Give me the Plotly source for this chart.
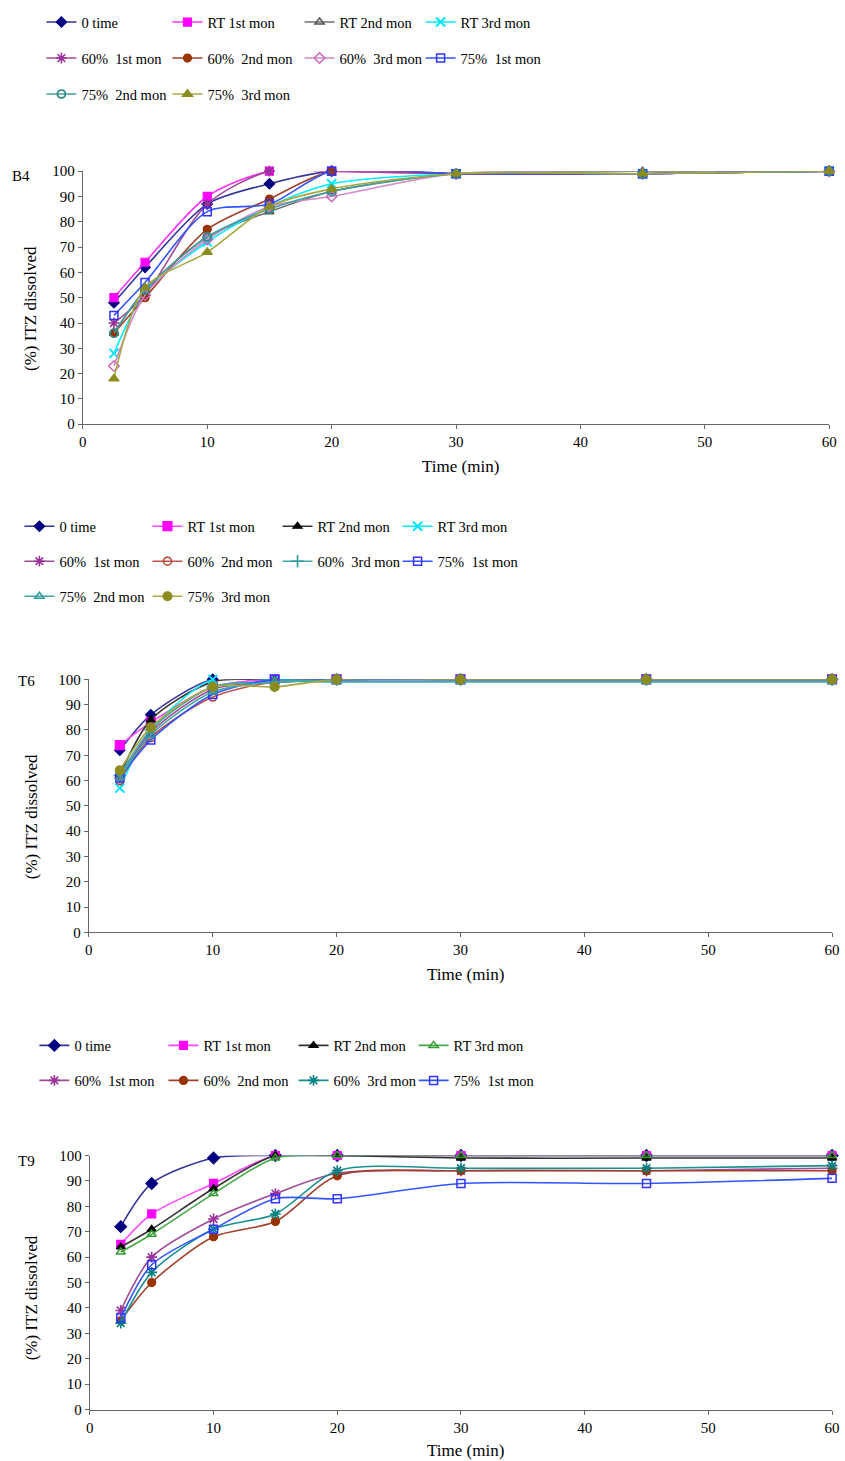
import plotly.graph_objects as go

W, H = 845, 1461
FONT = "Liberation Serif"

# calibration of screen positions (measured against the rendered page)
KX, BX = 0.9853, 4.2
KY, BY = 0.9887, 7.9

times = [2.5, 5, 10, 15, 20, 30, 45, 60]

# ---- Panel B4 ----
b4_names = ["0 time", "RT 1st mon", "RT 2nd mon", "RT 3rd mon",
            "60%\u00a0 1st mon", "60%\u00a0 2nd mon", "60%\u00a0 3rd mon",
            "75%\u00a0 1st mon", "75%\u00a0 2nd mon", "75%\u00a0 3rd mon"]
b4_0time = [48, 62, 87, 95, 100, 99, 99, 100]
b4_rt1 = [50, 64, 90, 100, 100, 99, 99, 100]
b4_rt2 = [36, 53, 74, 84, 92, 99, 100, 100]
b4_rt3 = [28, 52, 72, 86, 95, 99, 99, 100]
b4_60_1 = [40, 51, 87, 100, 100, 99, 99, 100]
b4_60_2 = [36, 50, 77, 89, 100, 99, 99, 100]
b4_60_3 = [23, 51, 73, 86, 90, 99, 99, 100]
b4_75_1 = [43, 56, 84, 87, 100, 99, 99, 100]
b4_75_2 = [36, 53, 74, 85, 92, 99, 99, 100]
b4_75_3 = [18, 54, 68, 86, 93, 99, 99, 100]

# ---- Panel T6 ----
t6_names = b4_names
t6_0time = [72, 86, 100, 99, 100, 100, 100, 100]
t6_rt1 = [74, 83, 97, 100, 100, 100, 100, 100]
t6_rt2 = [62, 84, 99, 100, 100, 100, 100, 100]
t6_rt3 = [57, 80, 100, 100, 100, 100, 100, 100]
t6_60_1 = [61, 79, 96, 99, 100, 100, 100, 100]
t6_60_2 = [60, 77, 93, 99, 100, 100, 100, 100]
t6_60_3 = [62, 80, 97, 99, 100, 100, 100, 100]
t6_75_1 = [61, 76, 94, 100, 100, 100, 100, 100]
t6_75_2 = [61, 78, 95, 99, 99, 99, 99, 99]
t6_75_3 = [64, 81, 97, 97, 100, 100, 100, 100]

# ---- Panel T9 ----
t9_names = b4_names[:8]
t9_0time = [72, 89, 99, 100, 100, 100, 100, 100]
t9_rt1 = [65, 77, 89, 100, 100, 100, 100, 100]
t9_rt2 = [64, 71, 87, 100, 100, 99, 99, 99]
t9_rt3 = [62, 69, 85, 99, 100, 100, 100, 100]
t9_60_1 = [39, 60, 75, 85, 93, 94, 94, 95]
t9_60_2 = [35, 50, 68, 74, 92, 94, 94, 94]
t9_60_3 = [34, 54, 71, 77, 94, 95, 95, 96]
t9_75_1 = [36, 57, 71, 83, 83, 89, 89, 91]

y_ticks = [0, 10, 20, 30, 40, 50, 60, 70, 80, 90, 100]
x_ticks = [0, 10, 20, 30, 40, 50, 60]


def cx(px):
    return (px - BX) / KX


def cy(py):
    return (py - BY) / KY


def px2x(px, cap=W):
    return min(cap, max(0.0, cx(px))) / W


def py2y(py):
    return 1 - min(H, max(0.0, cy(py))) / H


def sty(symbol, mcolor, lcolor, size=8, mlw=1.2):
    return dict(symbol=symbol, mcolor=mcolor, lcolor=lcolor, size=size, mlw=mlw)


b4_styles = [
    sty("diamond", "#000080", "#333399"),
    sty("square", "#ff00ff", "#ff33ff"),
    sty("triangle-up-open", "#555555", "#707070", mlw=1.5),
    sty("x-thin", "#00e5ff", "#00eeff", size=9, mlw=2),
    sty("asterisk", "#993399", "#a04a98", size=9, mlw=1.6),
    sty("circle", "#993300", "#a0402a"),
    sty("diamond-open", "#cc66bb", "#d08ac8", mlw=1.5),
    sty("square-open", "#3333ff", "#3355ff", mlw=1.5),
    sty("circle-open", "#2e8b8b", "#40a0a0", mlw=1.8),
    sty("triangle-up", "#8c8c1e", "#a8a840", size=9),
]
t6_styles = [
    sty("diamond", "#000080", "#333399"),
    sty("square", "#ff00ff", "#ff44ff", size=9),
    sty("triangle-up", "#000000", "#333333"),
    sty("x-thin", "#00e5ff", "#00eeff", size=9, mlw=2),
    sty("asterisk", "#993399", "#a04a98", size=9, mlw=1.6),
    sty("circle-open", "#b0402a", "#c0504d", mlw=1.5),
    sty("cross-thin", "#2e9999", "#40a8a8", size=9, mlw=1.6),
    sty("square-open", "#3333ff", "#3355ff", mlw=1.5),
    sty("triangle-up-open", "#2e9999", "#40a8a8", mlw=1.5),
    sty("circle", "#8c8c1e", "#a8a840", size=9),
]
t9_styles = [
    sty("diamond", "#000080", "#333399", size=9),
    sty("square", "#ff00ff", "#ff44ff"),
    sty("triangle-up", "#000000", "#333333"),
    sty("triangle-up-open", "#339933", "#44aa44", mlw=1.5),
    sty("asterisk", "#993399", "#a04a98", size=9, mlw=1.6),
    sty("circle", "#993300", "#a0402a"),
    sty("asterisk", "#008080", "#1a9090", size=9, mlw=1.6),
    sty("square-open", "#3333ff", "#3355ff", mlw=1.5),
]

panels = [
    dict(names=b4_names, series=[b4_0time, b4_rt1, b4_rt2, b4_rt3, b4_60_1, b4_60_2,
                                 b4_60_3, b4_75_1, b4_75_2, b4_75_3],
         styles=b4_styles, xa="x", ya="y",
         leg_cols=[81, 207, 339, 460], leg_rows=[22, 58, 94]),
    dict(names=t6_names, series=[t6_0time, t6_rt1, t6_rt2, t6_rt3, t6_60_1, t6_60_2,
                                 t6_60_3, t6_75_1, t6_75_2, t6_75_3],
         styles=t6_styles, xa="x2", ya="y2",
         leg_cols=[59, 187, 317, 437], leg_rows=[526, 561, 596]),
    dict(names=t9_names, series=[t9_0time, t9_rt1, t9_rt2, t9_rt3, t9_60_1, t9_60_2,
                                 t9_60_3, t9_75_1],
         styles=t9_styles, xa="x3", ya="y3",
         leg_cols=[74, 203, 333, 453], leg_rows=[1045, 1080]),
]

fig = go.Figure()
legend_layouts = {}
leg_idx = 0
for p in panels:
    for i, (name, vals, s) in enumerate(zip(p["names"], p["series"], p["styles"])):
        leg_idx += 1
        lid = "legend" if leg_idx == 1 else f"legend{leg_idx}"
        fig.add_trace(go.Scatter(
            x=times, y=vals, name=name, mode="lines+markers",
            xaxis=p["xa"], yaxis=p["ya"], legend=lid, cliponaxis=False,
            line=dict(color=s["lcolor"], width=1.6, shape="spline", smoothing=0.8),
            marker=dict(symbol=s["symbol"], color=s["mcolor"], size=s["size"],
                        line=dict(color=s["mcolor"], width=s["mlw"])),
        ))
        r, c = divmod(i, 4)
        tx = p["leg_cols"][c]
        ty = p["leg_rows"][r]
        legend_layouts[lid] = dict(
            x=(cx(tx) - 40) / W, y=py2y(ty), xanchor="left", yanchor="middle",
            bgcolor="rgba(0,0,0,0)", borderwidth=0, itemwidth=30,
            font=dict(family=FONT, size=14.5, color="#000"),
        )

axis_common = dict(showline=True, linecolor="#666666", linewidth=1, ticks="outside",
                   ticklen=4, tickcolor="#666666", showgrid=False, zeroline=False,
                   tickfont=dict(family=FONT, size=15, color="#000"))

domains = [
    ((83, 829), (171, 424)),
    ((89, 839), (679, 932)),
    ((90, 834), (1155, 1409)),
]
for k, ((x0, x1), (y0, y1)) in enumerate(domains):
    sfx = "" if k == 0 else str(k + 1)
    fig.update_layout(**{
        f"xaxis{sfx}": dict(domain=[px2x(x0), px2x(x1, cap=840)], range=[0, 60],
                            tickvals=x_ticks, anchor=f"y{sfx}", **axis_common),
        f"yaxis{sfx}": dict(domain=[py2y(y1), py2y(y0)], range=[0, 100], tickvals=y_ticks,
                            anchor=f"x{sfx}", **axis_common),
    })

annotations = []
labels = [("B4", 21, 176), ("T6", 27, 681), ("T9", 27, 1160)]
for txt, px, py in labels:
    annotations.append(dict(text=txt, x=px2x(px), y=py2y(py), xref="paper", yref="paper",
                            xanchor="center", yanchor="middle", showarrow=False,
                            font=dict(family=FONT, size=15, color="#000")))
ytitles = [(30, 308), (32, 816), (32, 1297)]
for px, py in ytitles:
    annotations.append(dict(text="(%) ITZ dissolved", x=px2x(px), y=py2y(py), xref="paper",
                            yref="paper", xanchor="center", yanchor="middle",
                            showarrow=False, textangle=-90,
                            font=dict(family=FONT, size=17, color="#000")))
xtitles = [(460, 466), (465, 974), (465, 1450)]
for px, py in xtitles:
    annotations.append(dict(text="Time (min)", x=px2x(px), y=py2y(py), xref="paper",
                            yref="paper", xanchor="center", yanchor="middle",
                            showarrow=False,
                            font=dict(family=FONT, size=17, color="#000")))

fig.update_layout(
    width=W, height=H, margin=dict(l=0, r=0, t=0, b=0),
    paper_bgcolor="white", plot_bgcolor="white",
    showlegend=True, annotations=annotations,
    font=dict(family=FONT, color="#000"),
    **legend_layouts,
)

fig.write_html("out.html")
